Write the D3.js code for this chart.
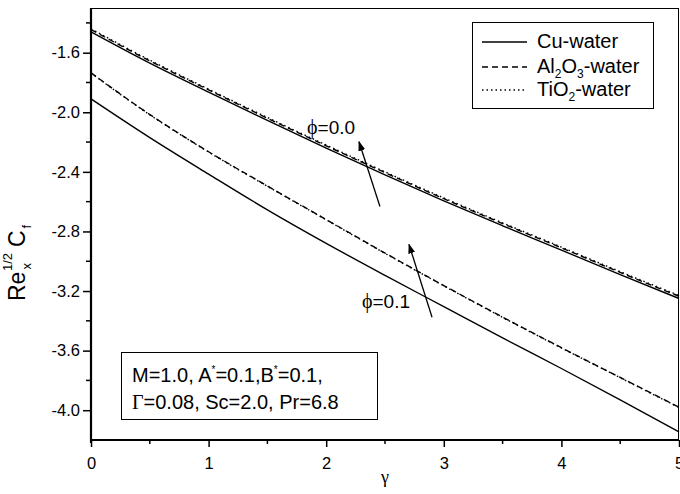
<!DOCTYPE html>
<html>
<head>
<meta charset="utf-8">
<script src="https://cdn.jsdelivr.net/npm/d3@7"></script>
<style>
  html, body { margin: 0; padding: 0; background: #fff; }
  svg { display: block; font-family: "Liberation Sans", Arial, sans-serif; }
</style>
</head>
<body>
<svg id="chart" width="680" height="494"></svg>
<script>
// ---- data ----
const gamma = [0, 0.5, 1, 1.5, 2, 2.5, 3, 3.5, 4, 4.5, 5];
const cuPhi0 = [-1.46, -1.67, -1.865, -2.055, -2.24, -2.42, -2.595, -2.762, -2.925, -3.09, -3.25];
const alPhi0 = [-1.445, -1.655, -1.85, -2.04, -2.225, -2.405, -2.58, -2.747, -2.91, -3.075, -3.235];
const tiPhi0 = [-1.44, -1.65, -1.845, -2.035, -2.22, -2.40, -2.575, -2.742, -2.905, -3.07, -3.23];
const cuPhi1 = [-1.91, -2.17, -2.415, -2.655, -2.88, -3.095, -3.305, -3.515, -3.72, -3.93, -4.145];
const alPhi1 = [-1.735, -2.015, -2.265, -2.495, -2.72, -2.945, -3.163, -3.375, -3.58, -3.78, -3.98];
const tiPhi1 = [-1.737, -2.017, -2.267, -2.497, -2.722, -2.947, -3.165, -3.377, -3.582, -3.782, -3.982];
const xTicks = [0, 1, 2, 3, 4, 5];
const xMinorTicks = [0.5, 1.5, 2.5, 3.5, 4.5];
const yTicks = [-4.0, -3.6, -3.2, -2.8, -2.4, -2.0, -1.6];
const yMinorTicks = [-3.8, -3.4, -3.0, -2.6, -2.2, -1.8, -1.4];
const legendNames = ["Cu-water", "Al2O3-water", "TiO2-water"];
const phiLabels = ["ϕ=0.0", "ϕ=0.1"];

// ---- layout ----
const svg = d3.select("#chart");
const X0 = 91, X1 = 679, Y0 = 440, Y1 = 8;
const x = d3.scaleLinear().domain([0, 5]).range([X0, X1]);
const y = d3.scaleLinear().domain([-4.2, -1.3]).range([Y0, Y1]);

// frame (top/right thin)
svg.append("line").attr("x1", X0).attr("x2", X1).attr("y1", Y1 + 0.5).attr("y2", Y1 + 0.5)
  .attr("stroke", "#000").attr("stroke-width", 1);
svg.append("line").attr("x1", X1 - 0.5).attr("x2", X1 - 0.5).attr("y1", Y1).attr("y2", Y0)
  .attr("stroke", "#000").attr("stroke-width", 1);

// series
const styles = [
  { dash: null },
  { dash: "6,4" },
  { dash: "1.5,3" }
];
const series = [
  { v: cuPhi0, s: 0 }, { v: alPhi0, s: 1 }, { v: tiPhi0, s: 2 },
  { v: cuPhi1, s: 0 }, { v: alPhi1, s: 1 }, { v: tiPhi1, s: 2 }
];
const line = d3.line().x((d, i) => x(gamma[i])).y(d => y(d)).curve(d3.curveMonotoneX);
const plot = svg.append("g");
series.forEach(sr => {
  plot.append("path").datum(sr.v).attr("d", line)
    .attr("fill", "none").attr("stroke", "#000").attr("stroke-width", 1.4)
    .attr("stroke-dasharray", styles[sr.s].dash);
});

// axes
const xAxis = d3.axisBottom(x).tickValues(xTicks).tickSize(7).tickFormat(d3.format("d"));
const gx = svg.append("g").attr("transform", `translate(0,${Y0})`).call(xAxis);
gx.append("g").selectAll("line").data(xMinorTicks).join("line")
  .attr("x1", d => x(d)).attr("x2", d => x(d)).attr("y1", 0).attr("y2", 4).attr("stroke", "#000").attr("stroke-width", 1.5);
const yAxis = d3.axisLeft(y).tickValues(yTicks).tickSize(8).tickFormat(d => d.toFixed(1));
const gy = svg.append("g").attr("transform", `translate(${X0},0)`).call(yAxis);
gy.append("g").selectAll("line").data(yMinorTicks).join("line")
  .attr("x1", 0).attr("x2", -5).attr("y1", d => y(d)).attr("y2", d => y(d)).attr("stroke", "#000").attr("stroke-width", 1.5);
[gx, gy].forEach(g => {
  g.select(".domain").attr("stroke-width", 2.2).attr("stroke", "#000");
  g.selectAll(".tick line").attr("stroke-width", 1.5);
  g.selectAll(".tick text").attr("font-size", 16.5).attr("font-family", "Liberation Sans, Arial, sans-serif").attr("fill", "#000");
});
gx.select(".domain").attr("d", `M${X0 - 1},0H${X1}`);
gy.select(".domain").attr("d", `M0,${Y1}V${Y0 + 3}`);
gx.selectAll(".tick text").attr("dy", "0.71em").attr("y", 17);
gy.selectAll(".tick text").attr("x", -11);

// x label
svg.append("text").attr("x", (X0 + X1) / 2).attr("y", 483).attr("text-anchor", "middle")
  .attr("font-family", "Liberation Serif, DejaVu Serif, serif").attr("font-size", 18).text("γ");

// y label
const yl = svg.append("g").attr("transform", "translate(25,301) rotate(-90)");
const ylt = yl.append("text").attr("font-size", 23);
ylt.append("tspan").text("Re");
ylt.append("tspan").attr("font-size", 13).attr("dx", 2).attr("dy", 6).text("x");
ylt.append("tspan").attr("font-size", 13).attr("dx", -8).attr("dy", -19).text("1/2");
ylt.append("tspan").attr("dy", 13).attr("dx", 6).text("C");
ylt.append("tspan").attr("font-size", 13).attr("dx", 2).attr("dy", 6).text("f");

// arrows
const defs = svg.append("defs");
defs.append("marker").attr("id", "ah").attr("viewBox", "0 0 10 10").attr("refX", 9).attr("refY", 5)
  .attr("markerWidth", 10).attr("markerHeight", 10).attr("markerUnits", "userSpaceOnUse").attr("orient", "auto")
  .append("path").attr("d", "M0,1.5L10,5L0,8.5Z").attr("fill", "#000");
const arrows = [
  { g0: 2.457, v0: -2.633, g1: 2.279, v1: -2.198 },
  { g0: 2.90, v0: -3.376, g1: 2.704, v1: -2.887 }
];
arrows.forEach(a => {
  svg.append("line").attr("x1", x(a.g0)).attr("y1", y(a.v0)).attr("x2", x(a.g1)).attr("y2", y(a.v1))
    .attr("stroke", "#000").attr("stroke-width", 1.3).attr("marker-end", "url(#ah)");
});
// phi labels
const phiPos = [{ g: 1.837, v: -2.104 }, { g: 2.304, v: -3.269 }];
phiLabels.forEach((t, i) => {
  const tx = svg.append("text").attr("x", x(phiPos[i].g)).attr("y", y(phiPos[i].v)).attr("dy", "0.35em")
    .attr("font-size", 19);
  tx.append("tspan").attr("font-family", "Liberation Serif, DejaVu Serif, serif").attr("font-size", 20).text(t.slice(0, 1));
  tx.append("tspan").text(t.slice(1));
});

// legend
const lg = svg.append("g");
lg.append("rect").attr("x", 472.5).attr("y", 22.5).attr("width", 181).attr("height", 86)
  .attr("fill", "#fff").attr("stroke", "#000").attr("stroke-width", 1);
const legY = [41, 66, 89];
legendNames.forEach((nm, i) => {
  lg.append("line").attr("x1", 482).attr("x2", 527).attr("y1", legY[i] + 1).attr("y2", legY[i] + 1)
    .attr("stroke", "#000").attr("stroke-width", 1.4).attr("stroke-dasharray", styles[i].dash);
  const t = lg.append("text").attr("x", 537).attr("y", legY[i]).attr("dy", "0.36em").attr("font-size", 20);
  if (i === 0) t.text(nm);
  else if (i === 1) {
    t.append("tspan").text("Al");
    t.append("tspan").attr("font-size", 12).attr("dy", 5).text("2");
    t.append("tspan").attr("dy", -5).text("O");
    t.append("tspan").attr("font-size", 12).attr("dy", 5).text("3");
    t.append("tspan").attr("dy", -5).text("-water");
  } else {
    t.append("tspan").text("TiO");
    t.append("tspan").attr("font-size", 12).attr("dy", 5).text("2");
    t.append("tspan").attr("dy", -5).text("-water");
  }
});

// parameter box
const pb = svg.append("g");
pb.append("rect").attr("x", 121.5).attr("y", 352.5).attr("width", 256).attr("height", 67)
  .attr("fill", "#fff").attr("stroke", "#000").attr("stroke-width", 1);
const l1 = pb.append("text").attr("x", 132).attr("y", 382).attr("font-size", 20);
l1.append("tspan").text("M=1.0, A");
l1.append("tspan").attr("font-size", 10).attr("dy", -9).text("*");
l1.append("tspan").attr("dy", 9).text("=0.1,B");
l1.append("tspan").attr("font-size", 10).attr("dy", -9).text("*");
l1.append("tspan").attr("dy", 9).text("=0.1,");
const l2 = pb.append("text").attr("x", 132).attr("y", 409).attr("font-size", 20);
l2.append("tspan").attr("font-family", "Liberation Serif, DejaVu Serif, serif").text("Γ");
l2.append("tspan").text("=0.08, Sc=2.0, Pr=6.8");
</script>
</body>
</html>
